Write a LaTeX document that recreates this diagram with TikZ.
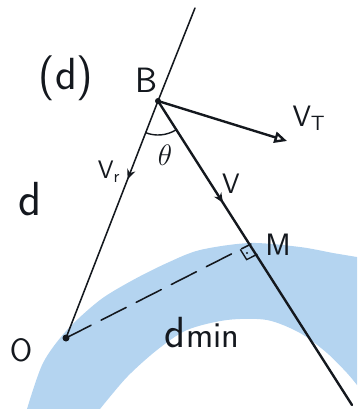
\RequirePackage{fix-cm}
\documentclass[tikz,border=0pt]{standalone}
\usetikzlibrary{arrows.meta,angles,decorations.markings}
\definecolor{bandblue}{RGB}{180,212,240}
\definecolor{inkblack}{RGB}{20,24,30}

\begin{document}
\begin{tikzpicture}[
    x=0.025cm, y=-0.025cm,
    ink/.style={draw=inkblack, line width=1.7pt, line cap=round},
    thinink/.style={draw=inkblack, line width=1.1pt, line cap=round},
    midarrow/.style={postaction={decorate},
        decoration={markings, mark=at position #1 with {\arrow{Stealth[length=7pt,width=6pt]}}}},
    lbl/.style={text=inkblack, inner sep=0pt}
]
\useasboundingbox (0,0) rectangle (357,409);

% shaded band
\fill[bandblue] plot[smooth] coordinates {(27,409) (43,363) (67,330) (100,300) (133,280)
    (167,263) (200,250) (250,243) (300,247) (333,253) (357,257)}
    -- plot[smooth] coordinates {(357,385) (347,373) (327,353) (300,333) (267,320)
    (227,320) (187,330) (157,350) (127,377) (100,409)} -- cycle;

% points
\coordinate (top) at (195,8);
\coordinate (B) at (158,101);
\coordinate (O) at (66,338);
\coordinate (M) at (251,244);
\coordinate (E) at (352,405);
\coordinate (T) at (287,141);
\coordinate (Mdot) at (247,253);

% lines
\draw[thinink] (top) -- (B);
\draw[thinink, midarrow=0.33] (B) -- (O);
\draw[ink, midarrow=0.335] (B) -- (E);
\draw[ink, -{Triangle[open,length=9pt,width=8pt]}] (B) -- (T);
\draw[thinink, dash pattern=on 20pt off 8pt] (O) -- (M);
\fill[inkblack] (B) circle (3);
\fill[inkblack] (O) circle (3.5);

% angle and right angle
\pic[draw=inkblack, line width=1pt, angle radius=0.85cm] {angle=O--B--E};
\pic[draw=inkblack, line width=1pt, angle radius=0.3cm] {right angle=O--M--E};
\fill[inkblack] (Mdot) circle (1.2);

% labels
\node[lbl, font=\sffamily\fontsize{32}{32}\selectfont] (part) at (66,78) {(d)};
\node[lbl, font=\sffamily\fontsize{25}{25}\selectfont] (labB) at (147,80) {B};
\node[lbl, font=\fontsize{21}{21}\selectfont] (labtheta) at (165,155) {$\theta$};
\node[lbl, font=\sffamily\fontsize{18}{18}\selectfont] (labvr) at (109,172) {V\textsubscript{r}};
\node[lbl, font=\sffamily\fontsize{21}{21}\selectfont] (labvt) at (309,118) {V\textsubscript{T}};
\node[lbl, font=\sffamily\fontsize{20}{20}\selectfont] (labv) at (231,184) {V};
\node[lbl, font=\sffamily\fontsize{34}{34}\selectfont] (labd) at (30,199) {d};
\node[lbl, font=\sffamily\fontsize{23}{23}\selectfont] (labO) at (21,350) {O};
\node[lbl, font=\sffamily\fontsize{22}{22}\selectfont] (labM) at (278,245) {M};
\node[lbl, font=\sffamily\fontsize{31}{31}\selectfont] (labdmin) at (202,333)
    {d{\fontsize{26}{26}\selectfont min}};
\end{tikzpicture}
\end{document}
